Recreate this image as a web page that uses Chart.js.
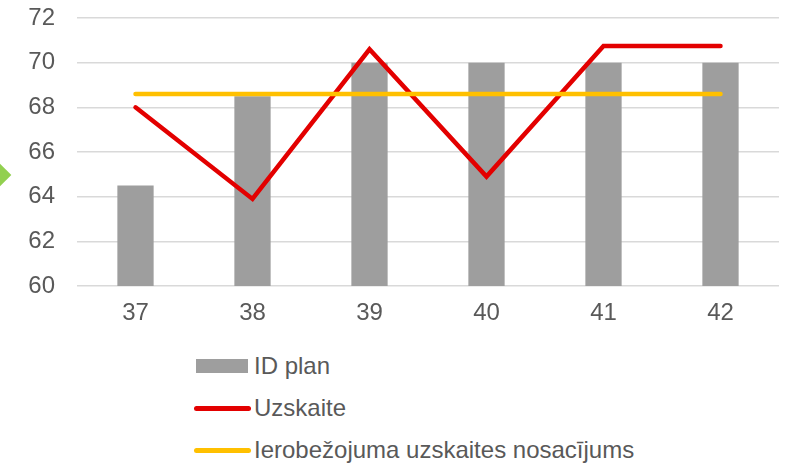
<!DOCTYPE html>
<html>
<head>
<meta charset="utf-8">
<script src="https://cdn.jsdelivr.net/npm/chart.js@4/dist/chart.umd.min.js"></script>
<style>
  html, body { margin: 0; padding: 0; background: #fff; }
  #wrap { position: relative; width: 790px; height: 463px; overflow: hidden; font-family: "Liberation Sans", Arial, sans-serif; }
  #c { position: absolute; left: 0; top: 0; }
  #deco { position: absolute; left: -8px; top: 167px; width: 16px; height: 16px; background: #92D050; transform: rotate(45deg); }
  #legend { position: absolute; left: 0; top: 0; }
  .li { position: absolute; left: 194px; height: 30px; display: flex; align-items: center; color: #595959; font-size: 24px; white-space: nowrap; }
  .sw { display: inline-block; margin-right: 3px; }
</style>
</head>
<body>
<div id="wrap">
  <canvas id="c" width="790" height="340"></canvas>
  <div id="deco"></div>
  <div id="legend"></div>
</div>
<script>
const categories = ["37", "38", "39", "40", "41", "42"];
const idPlan = [64.5, 68.5, 70, 70, 70, 70];
const uzskaite = [68.0, 63.9, 70.6, 64.9, 70.75, 70.75];
const ierobezojums = [68.6, 68.6, 68.6, 68.6, 68.6, 68.6];
const seriesNames = ["ID plan", "Uzskaite", "Ierobežojuma uzskaites nosacījums"];
const yTicks = { min: 60, max: 72, step: 2 };

const ctx = document.getElementById('c').getContext('2d');
const chart = new Chart(ctx, {
  data: {
    labels: categories,
    datasets: [
      { type: 'bar', label: seriesNames[0], data: idPlan, backgroundColor: '#9E9E9E', borderWidth: 0, barPercentage: 0.31, categoryPercentage: 1, order: 3 },
      { type: 'line', label: seriesNames[1], data: uzskaite, borderColor: '#E30000', borderWidth: 4.5, pointRadius: 0, borderCapStyle: 'round', borderJoinStyle: 'miter', tension: 0, order: 2 },
      { type: 'line', label: seriesNames[2], data: ierobezojums, borderColor: '#FFC000', borderWidth: 4.5, pointRadius: 0, borderCapStyle: 'round', tension: 0, order: 1 }
    ]
  },
  options: {
    responsive: false,
    animation: false,
    devicePixelRatio: 1,
    layout: { padding: { top: 18, right: 11, left: 0, bottom: 0 } },
    plugins: { legend: { display: false }, tooltip: { enabled: false } },
    scales: {
      x: {
        grid: { display: false, drawTicks: false },
        border: { display: false },
        ticks: { color: '#595959', font: { family: 'Liberation Sans', size: 24 }, padding: 13 },
        afterFit: (s) => { s.height = 54; s.paddingLeft = 0; s.paddingRight = 0; }
      },
      y: {
        min: yTicks.min, max: yTicks.max,
        grid: { color: '#D9D9D9', lineWidth: 1.5, drawTicks: false },
        border: { display: false },
        ticks: { stepSize: yTicks.step, color: '#595959', font: { family: 'Liberation Sans', size: 24 }, padding: 22 },
        afterFit: (s) => { s.width = 77; s.paddingTop = 0; s.paddingBottom = 0; }
      }
    }
  }
});

// HTML legend built from chart datasets
const legend = document.getElementById('legend');
const rowY = [366, 408, 450];
chart.data.datasets.forEach((ds, i) => {
  const row = document.createElement('div');
  row.className = 'li';
  row.style.top = (rowY[i] - 15) + 'px';
  const sw = document.createElement('span');
  sw.className = 'sw';
  if (ds.type === 'bar') {
    sw.style.width = '52px'; sw.style.height = '14px'; sw.style.background = ds.backgroundColor;
    sw.style.marginLeft = '2px'; sw.style.marginRight = '6px';
  } else {
    sw.style.width = '57px'; sw.style.height = '5px'; sw.style.background = ds.borderColor; sw.style.borderRadius = '3px';
  }
  row.appendChild(sw);
  const t = document.createElement('span');
  t.textContent = ds.label;
  row.appendChild(t);
  legend.appendChild(row);
});
</script>
</body>
</html>
